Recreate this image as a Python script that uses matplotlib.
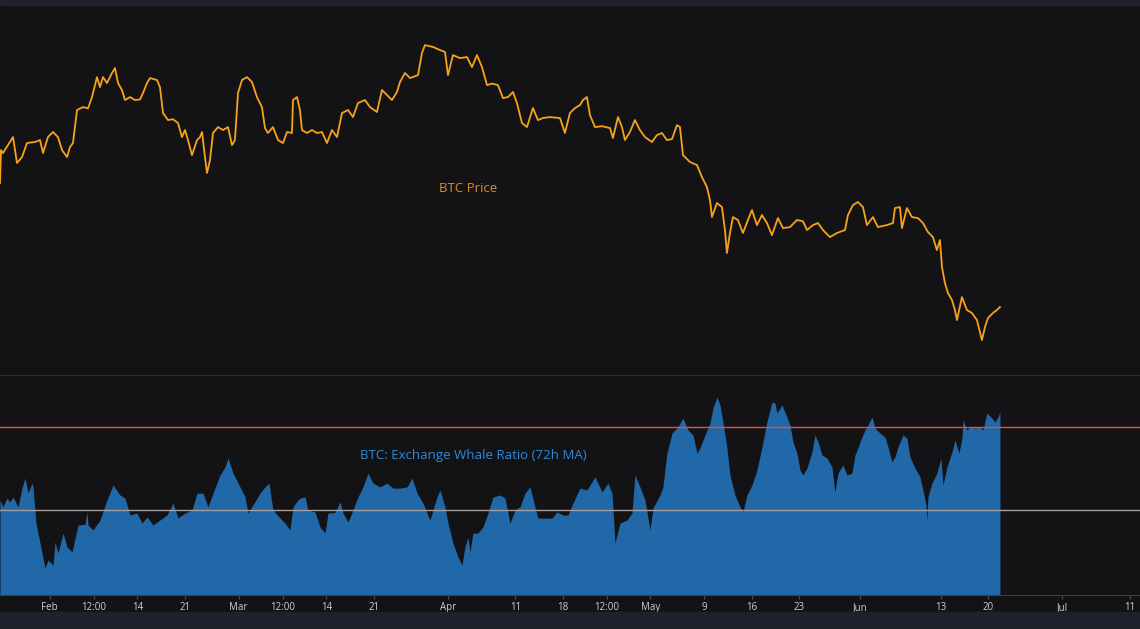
import datetime as dt

import matplotlib
matplotlib.use("Agg")
import matplotlib.pyplot as plt
import matplotlib.dates as mdates
from matplotlib.patches import Rectangle
import numpy as np

# time origin of the visible window (left edge of the chart)
START = dt.datetime(2022, 1, 24, 15, 20)
SPAN_DAYS = 168.9

# BTC price, days after START, thousands of USD
price_day = [
    0.00, 0.15, 0.44, 1.19, 1.93, 2.52, 3.26, 4.00, 5.19, 5.93, 6.37, 7.11, 7.85, 8.59, 9.19,
    9.93, 10.37, 10.81, 11.41, 12.30, 13.04, 13.63, 14.37, 14.81, 15.26, 15.85, 16.59, 17.04,
    17.48, 18.07, 18.52, 19.26, 20.00, 20.74, 21.19, 21.78, 22.22, 23.26, 23.70, 24.15, 24.89,
    25.63, 26.37, 26.96, 27.41, 27.85, 28.44, 29.19, 29.63, 29.93, 30.37, 30.67, 31.11, 31.56,
    32.30, 33.04, 33.78, 34.37, 34.81, 35.26, 35.85, 36.59, 37.33, 38.07, 38.81, 39.26, 39.70,
    40.44, 41.19, 41.93, 42.52, 43.26, 43.41, 44.00, 44.44, 44.74, 45.48, 46.22, 46.96, 47.70,
    48.44, 49.19, 49.93, 50.67, 51.56, 52.30, 53.04, 54.07, 54.81, 55.85, 56.59, 57.33, 58.07,
    58.81, 59.26, 60.00, 60.74, 61.93, 62.52, 62.96, 64.15, 65.19, 65.93, 66.37, 67.11, 68.15,
    69.19, 69.93, 70.67, 71.41, 72.15, 72.89, 73.78, 74.52, 75.26, 76.00, 76.59, 77.33, 78.07,
    78.96, 79.70, 80.44, 81.48, 82.96, 83.70, 84.44, 85.19, 85.93, 86.37, 86.96, 87.41, 88.15,
    89.19, 90.37, 90.81, 91.56, 92.15, 92.59, 93.33, 94.07, 94.81, 95.56, 96.59, 97.33, 98.07,
    98.81, 99.56, 100.30, 100.74, 101.19, 102.22, 103.26, 104.00, 104.74, 105.19, 105.48,
    106.22, 106.96, 107.41, 107.70, 108.15, 108.59, 109.33, 110.07, 110.81, 111.41, 112.15,
    112.89, 113.63, 114.37, 115.26, 116.00, 117.04, 118.07, 118.96, 119.56, 120.44, 121.19,
    121.93, 122.96, 124.00, 125.19, 125.63, 126.37, 127.11, 127.85, 128.44, 129.33, 130.07,
    131.41, 132.30, 132.59, 133.33, 133.63, 134.37, 135.11, 136.00, 136.74, 137.48, 138.22,
    138.81, 139.26, 139.56, 140.00, 140.44, 141.04, 141.48, 141.78, 142.52, 143.26, 144.00,
    144.74, 145.48, 145.93, 146.37, 147.11, 147.70, 148.15,
]
price_k = [
    33.86, 37.19, 36.89, 37.69, 38.50, 35.88, 36.48, 37.90, 38.00, 38.20, 36.89, 38.50, 39.01,
    38.50, 37.19, 36.48, 37.49, 37.90, 41.23, 41.53, 41.40, 42.54, 44.56, 43.55, 44.56, 43.96,
    44.97, 45.47, 43.96, 43.25, 42.24, 42.54, 42.24, 42.30, 42.95, 43.96, 44.46, 44.26, 43.55,
    40.93, 40.22, 40.30, 39.92, 38.50, 39.21, 38.20, 36.68, 38.20, 38.50, 39.01, 36.48, 34.87,
    36.18, 38.91, 39.51, 39.21, 39.51, 37.69, 38.20, 42.95, 44.26, 44.56, 44.06, 42.54, 41.53,
    39.41, 38.91, 39.51, 38.20, 37.90, 39.01, 38.91, 42.24, 42.54, 41.23, 39.21, 38.91, 39.21,
    38.91, 39.01, 37.90, 39.21, 38.50, 40.93, 41.23, 40.52, 41.94, 42.24, 41.53, 41.03, 43.25,
    42.74, 42.24, 43.05, 44.06, 44.97, 44.46, 44.76, 46.99, 47.79, 47.60, 47.29, 47.09, 44.76,
    46.78, 46.48, 46.58, 45.57, 46.78, 45.57, 43.75, 43.90, 43.75, 42.44, 42.54, 43.05, 41.94,
    39.92, 39.51, 41.43, 40.22, 40.42, 40.52, 40.42, 38.91, 40.93, 41.43, 41.73, 42.24, 42.54,
    40.72, 39.51, 39.60, 39.41, 38.40, 40.52, 39.51, 38.20, 39.01, 40.22, 39.21, 38.50, 38.00,
    38.70, 38.91, 38.20, 38.30, 39.71, 39.51, 36.68, 35.98, 35.67, 34.46, 33.45, 32.14, 30.42,
    31.84, 31.43, 29.11, 26.79, 28.81, 30.42, 30.12, 28.81, 30.12, 31.13, 29.61, 30.62, 29.82,
    28.60, 30.32, 29.31, 29.40, 30.12, 30.00, 29.11, 29.61, 29.82, 29.11, 28.40, 28.81, 29.11,
    30.62, 31.63, 31.94, 31.43, 29.61, 30.42, 29.41, 29.61, 29.82, 31.33, 31.43, 29.31, 31.33,
    30.42, 30.32, 29.82, 28.91, 28.40, 27.09, 28.10, 25.37, 23.76, 22.75, 22.04, 21.03, 20.02,
    22.34, 21.03, 20.73, 20.02, 18.00, 19.31, 20.22, 20.73, 21.03, 21.33,
]

# exchange whale ratio (72h MA), days after START
whale_day = [
    0.00, 0.44, 1.04, 1.48, 1.93, 2.67, 3.26, 3.70, 4.15, 4.74, 4.89, 5.33, 5.93, 6.67, 7.11,
    7.85, 8.15, 8.59, 9.33, 9.93, 10.67, 11.56, 12.59, 12.89, 13.04, 13.78, 14.81, 15.85,
    16.74, 17.78, 18.52, 19.26, 20.30, 21.04, 21.78, 22.67, 23.70, 24.74, 25.63, 26.37, 27.41,
    28.44, 29.19, 30.07, 30.81, 31.56, 32.59, 33.33, 33.78, 34.52, 35.56, 36.30, 36.74, 37.48,
    38.52, 39.26, 39.85, 40.44, 41.48, 42.22, 42.96, 43.41, 44.15, 44.44, 45.19, 45.63, 46.67,
    47.41, 48.15, 48.59, 49.63, 50.37, 50.81, 51.56, 52.30, 53.04, 53.78, 54.52, 55.26, 56.30,
    57.33, 58.22, 59.26, 60.30, 61.04, 61.78, 62.67, 63.70, 64.74, 65.19, 65.93, 66.37, 67.11,
    67.85, 68.44, 68.89, 69.33, 69.63, 70.07, 70.81, 71.56, 72.30, 73.04, 74.07, 74.81, 75.56,
    76.30, 77.04, 77.78, 78.52, 79.26, 79.70, 80.74, 81.78, 82.52, 83.41, 84.15, 84.89, 85.93,
    86.96, 88.15, 89.19, 90.07, 90.67, 91.11, 91.85, 92.89, 93.63, 94.07, 94.81, 95.56, 96.30,
    96.74, 97.78, 98.22, 98.81, 99.56, 100.44, 101.19, 101.93, 102.67, 103.26, 103.70, 104.44,
    105.19, 105.63, 106.22, 106.67, 107.11, 107.70, 108.15, 108.89, 109.63, 110.07, 110.67,
    111.41, 112.15, 112.89, 113.63, 114.37, 114.81, 115.11, 115.85, 116.59, 117.04, 117.48,
    118.07, 118.52, 118.96, 119.56, 120.30, 120.74, 121.19, 121.78, 122.52, 123.26, 123.70,
    124.15, 124.89, 125.48, 126.22, 126.67, 127.11, 127.41, 128.15, 128.74, 129.19, 129.63,
    130.37, 131.11, 131.56, 132.15, 132.59, 133.04, 133.78, 134.37, 134.81, 135.56, 136.30,
    136.74, 137.19, 137.33, 137.48, 138.07, 138.81, 139.41, 139.70, 140.30, 141.04, 141.48,
    142.07, 142.52, 142.67, 143.26, 143.70, 144.44, 145.19, 145.63, 146.22, 146.96, 147.41,
    147.85, 148.15,
]
whale_ratio = [
    0.542, 0.513, 0.550, 0.534, 0.555, 0.513, 0.592, 0.634, 0.571, 0.613, 0.597, 0.445, 0.361,
    0.256, 0.290, 0.269, 0.366, 0.319, 0.403, 0.345, 0.324, 0.437, 0.440, 0.492, 0.437, 0.416,
    0.458, 0.542, 0.605, 0.563, 0.550, 0.479, 0.487, 0.445, 0.471, 0.437, 0.458, 0.479, 0.529,
    0.466, 0.487, 0.500, 0.571, 0.571, 0.513, 0.571, 0.647, 0.681, 0.718, 0.655, 0.597, 0.555,
    0.487, 0.521, 0.571, 0.597, 0.613, 0.500, 0.466, 0.445, 0.416, 0.513, 0.542, 0.550, 0.555,
    0.500, 0.492, 0.429, 0.403, 0.487, 0.490, 0.534, 0.487, 0.450, 0.500, 0.555, 0.597, 0.655,
    0.613, 0.597, 0.613, 0.592, 0.592, 0.597, 0.634, 0.571, 0.529, 0.458, 0.555, 0.584, 0.513,
    0.445, 0.361, 0.303, 0.269, 0.345, 0.387, 0.324, 0.403, 0.403, 0.429, 0.487, 0.555, 0.563,
    0.550, 0.445, 0.500, 0.513, 0.571, 0.597, 0.513, 0.466, 0.466, 0.466, 0.492, 0.479, 0.479,
    0.529, 0.592, 0.584, 0.639, 0.576, 0.613, 0.571, 0.361, 0.445, 0.458, 0.487, 0.647, 0.597,
    0.542, 0.416, 0.508, 0.563, 0.597, 0.739, 0.823, 0.849, 0.886, 0.836, 0.815, 0.739, 0.760,
    0.815, 0.865, 0.928, 0.975, 0.941, 0.870, 0.760, 0.647, 0.563, 0.513, 0.492, 0.563, 0.605,
    0.668, 0.765, 0.870, 0.954, 0.949, 0.907, 0.941, 0.891, 0.857, 0.786, 0.739, 0.668, 0.647,
    0.676, 0.744, 0.815, 0.786, 0.731, 0.718, 0.681, 0.576, 0.655, 0.689, 0.647, 0.655, 0.731,
    0.760, 0.786, 0.836, 0.865, 0.891, 0.844, 0.823, 0.807, 0.765, 0.702, 0.723, 0.765, 0.815,
    0.802, 0.723, 0.676, 0.639, 0.584, 0.521, 0.458, 0.555, 0.613, 0.655, 0.718, 0.605, 0.681,
    0.744, 0.794, 0.739, 0.802, 0.878, 0.836, 0.849, 0.844, 0.849, 0.836, 0.907, 0.886, 0.870,
    0.891, 0.912,
]

upper_level = 0.85
lower_level = 0.50

tick_dates = [
    dt.datetime(2022, 2, 1), dt.datetime(2022, 2, 7, 12), dt.datetime(2022, 2, 14),
    dt.datetime(2022, 2, 21), dt.datetime(2022, 3, 1), dt.datetime(2022, 3, 7, 12),
    dt.datetime(2022, 3, 14), dt.datetime(2022, 3, 21), dt.datetime(2022, 4, 1),
    dt.datetime(2022, 4, 11), dt.datetime(2022, 4, 18), dt.datetime(2022, 4, 24, 12),
    dt.datetime(2022, 5, 1), dt.datetime(2022, 5, 9), dt.datetime(2022, 5, 16),
    dt.datetime(2022, 5, 23), dt.datetime(2022, 6, 1), dt.datetime(2022, 6, 13),
    dt.datetime(2022, 6, 20), dt.datetime(2022, 7, 1), dt.datetime(2022, 7, 11),
]
tick_labels = ["Feb", "12:00", "14", "21", "Mar", "12:00", "14", "21", "Apr", "11", "18",
               "12:00", "May", "9", "16", "23", "Jun", "13", "20", "Jul", "11"]

BG = "#131316"
STRIP = "#1e222d"
W, H = 1140, 629


def to_dates(days):
    return [START + dt.timedelta(days=d) for d in days]


def main():
    plt.rcParams["font.family"] = ["Open Sans", "DejaVu Sans"]
    fig = plt.figure(figsize=(W / 100, H / 100), dpi=100, facecolor=BG)

    # top and bottom header / footer strips
    fig.patches.append(Rectangle((0, 1 - 5 / H), 1, 5 / H, transform=fig.transFigure,
                                 color=STRIP, zorder=0))
    fig.patches.append(Rectangle((0, 0), 1, 17 / H, transform=fig.transFigure,
                                 color=STRIP, zorder=0))

    ax1 = fig.add_axes([0, 1 - 373 / H, 1, 368 / H], facecolor=BG)
    ax2 = fig.add_axes([0, 1 - 595 / H, 1, 220 / H], facecolor=BG, sharex=ax1)

    xmin = mdates.date2num(START)
    xmax = mdates.date2num(START + dt.timedelta(days=SPAN_DAYS))

    # price panel
    ax1.plot(to_dates(price_day), np.array(price_k) * 1000, color="#f7a21b", lw=1.3)
    ax1.set_ylim(14670, 51840)
    ax1.text(0.411, 0.5, "BTC Price", transform=ax1.transAxes, color="#e08a1e",
             fontsize=9.5, ha="center", va="center")

    # whale ratio panel
    low = 0.143
    ax2.fill_between(to_dates(whale_day), low, whale_ratio, color="#2168a9", lw=0)
    ax2.axhline(upper_level, color="#e3503c", lw=1.0)
    ax2.axhline(lower_level, color="#a89c9c", lw=1.0)
    ax2.set_ylim(low, 1.067)
    ax2.text(0.415, 0.636, "BTC: Exchange Whale Ratio (72h MA)", transform=ax2.transAxes,
             color="#2f8ad8", fontsize=9.5, ha="center", va="center")

    ax1.set_xlim(xmin, xmax)
    for ax in (ax1, ax2):
        for side in ("left", "right", "top", "bottom"):
            ax.spines[side].set_visible(False)
        ax.set_yticks([])
    ax1.tick_params(axis="x", bottom=False, labelbottom=False)

    # separator between the panels and axis line
    ax2.spines["top"].set_visible(True)
    ax2.spines["top"].set_color("#2c2c31")
    ax2.spines["bottom"].set_visible(True)
    ax2.spines["bottom"].set_color("#3b3b40")

    ax2.set_xticks([mdates.date2num(d) for d in tick_dates])
    ax2.set_xticklabels(tick_labels)
    ax2.tick_params(axis="x", colors="#4a4a50", length=3, width=0.8, pad=2,
                    labelsize=7, labelcolor="#d0d0d0")

    fig.savefig("out.png", dpi=100, facecolor=BG)


if __name__ == "__main__":
    main()
